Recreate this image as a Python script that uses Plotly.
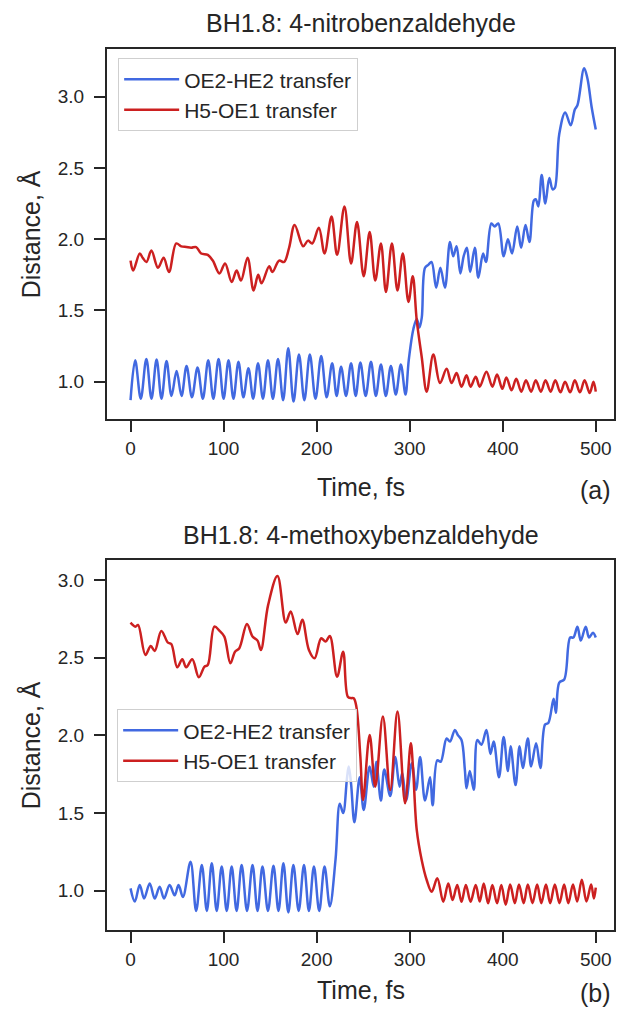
import plotly.graph_objects as go

# ---------------- data (time fs, distance Å) ----------------
time_ticks = [0, 100, 200, 300, 400, 500]
dist_ticks = [1.0, 1.5, 2.0, 2.5, 3.0]

series_names = ["OE2-HE2 transfer", "H5-OE1 transfer"]
titles = ["BH1.8: 4-nitrobenzaldehyde", "BH1.8: 4-methoxybenzaldehyde"]
panel_tags = ["(a)", "(b)"]

# (a) 4-nitrobenzaldehyde
a_blue = [(0, 0.87), (5, 1.15), (11, 0.88), (17, 1.16), (22.5, 0.88), (28, 1.155), (33.3, 0.88),
          (38.7, 1.145), (44, 0.90), (49.5, 1.075), (54.8, 0.90), (60.2, 1.11), (66, 0.89), (72, 1.10),
          (77.7, 0.88), (83.5, 1.15), (89, 0.88), (94.6, 1.16), (100, 0.88), (105.3, 1.15), (110.6, 0.88),
          (116, 1.14), (121.3, 0.89), (126.7, 1.095), (131.8, 0.88), (137, 1.13), (142.3, 0.88),
          (147.7, 1.15), (153, 0.88), (158.5, 1.16), (164, 0.87), (169.5, 1.235), (175.2, 0.86),
          (181, 1.19), (186.8, 0.87), (192.7, 1.19), (198.8, 0.88), (204.9, 1.18), (210.8, 0.89),
          (216.7, 1.13), (221.5, 0.90), (226.3, 1.105), (231.6, 0.90), (237, 1.13), (242, 0.90),
          (247, 1.135), (252.7, 0.90), (258.4, 1.14), (263.7, 0.90), (269.1, 1.12), (274.4, 0.90),
          (279.8, 1.11), (285.1, 0.91), (290.5, 1.12), (295.5, 0.91), (299, 1.15), (304, 1.37),
          (307.6, 1.44), (310.5, 1.38), (313, 1.45), (316.5, 1.80), (320, 1.82), (323.5, 1.84),
          (328.5, 1.66), (333, 1.80), (337.9, 1.66), (343.3, 1.98), (346.8, 1.88), (350.4, 1.95),
          (354.5, 1.76), (358, 1.88), (361.5, 1.94), (365, 1.77), (370, 1.94), (373.8, 1.73),
          (378.9, 1.90), (382, 1.84), (387.8, 2.11), (391.4, 2.09), (395.2, 2.11), (401, 1.88),
          (405.6, 2.00), (410, 1.90), (415.6, 2.09), (419.8, 1.94), (424.5, 2.10), (428.7, 1.98),
          (433.4, 2.27), (435.5, 2.28), (438.3, 2.23), (441.9, 2.45), (445.8, 2.25), (450.1, 2.43),
          (453.6, 2.35), (456, 2.36), (460.8, 2.74), (467.2, 2.89), (473, 2.80), (477.5, 2.91),
          (480.3, 2.94), (487.5, 3.20), (491, 3.13), (495.5, 2.93), (500, 2.77)]

a_red = [(0, 1.85), (2.8, 1.78), (9.9, 1.90), (13, 1.87), (17.1, 1.84), (22.4, 1.92), (29.5, 1.80),
         (35.6, 1.87), (41.3, 1.77), (49.1, 1.97), (54.5, 1.95), (60, 1.945), (65.2, 1.94),
         (70.5, 1.945), (75.9, 1.90), (83, 1.89), (88.4, 1.85), (95.5, 1.76), (101.6, 1.83),
         (108.7, 1.70), (114, 1.78), (118.7, 1.71), (125.8, 1.87), (132.2, 1.64), (137.2, 1.75),
         (140.8, 1.69), (149, 1.81), (152.5, 1.77), (159.7, 1.85), (165, 1.84), (170.4, 1.94),
         (176.4, 2.10), (185.5, 1.95), (190.7, 1.99), (195.3, 1.97), (202.4, 2.08), (208.5, 1.90),
         (216, 2.16), (222, 1.89), (229.9, 2.23), (237, 1.83), (243.4, 2.12), (250.6, 1.74),
         (257, 2.05), (263, 1.71), (269.1, 1.97), (274.5, 1.63), (280.9, 1.97), (286.9, 1.64),
         (292.6, 1.90), (298.7, 1.56), (303.3, 1.74), (307.6, 1.43), (312.9, 1.175), (318.3, 0.93),
         (325.4, 1.19), (332.6, 0.99), (339.7, 1.09), (345, 0.99), (350.4, 1.06), (355.7, 0.965),
         (361.1, 1.045), (365.4, 0.965), (371, 1.035), (375.3, 0.965), (382.5, 1.07), (388.9, 0.965),
         (393.9, 1.05), (399.6, 0.95), (403.9, 1.03), (409.5, 0.94), (414.5, 1.02), (420, 0.93),
         (425, 1.01), (430.5, 0.93), (435.5, 1.01), (441, 0.93), (446, 1.01), (451.5, 0.93),
         (456.5, 1.01), (462, 0.925), (467, 1.00), (472.5, 0.925), (477.5, 1.01), (483, 0.925),
         (488, 1.01), (493.5, 0.92), (497.5, 1.00), (500, 0.93)]

# (b) 4-methoxybenzaldehyde
b_blue = [(0, 1.015), (4.6, 0.93), (9.9, 1.037), (14.6, 0.95), (20.6, 1.047), (26, 0.95), (31.3, 1.026),
          (36, 0.95), (42, 1.037), (47.4, 0.97), (51.6, 1.037), (56.3, 0.96), (64.5, 1.187), (70.5, 0.87),
          (76.6, 1.165), (82, 0.87), (87.3, 1.176), (92.6, 0.87), (98, 1.155), (103.4, 0.87),
          (108.7, 1.155), (114, 0.87), (119.4, 1.165), (125.2, 0.87), (131.1, 1.165), (136.5, 0.87),
          (141.8, 1.155), (147.7, 0.87), (153.6, 1.16), (159, 0.87), (164.3, 1.176), (169.6, 0.86),
          (175, 1.165), (180.7, 0.87), (186.4, 1.165), (191.7, 0.87), (197.1, 1.155), (202.8, 0.87),
          (208.5, 1.155), (214.2, 0.90), (220.3, 1.20), (224.9, 1.56), (228.5, 1.50), (232.7, 1.73),
          (234.5, 1.80), (237, 1.69), (240.6, 1.44), (246.3, 1.73), (250.6, 1.52), (257, 1.80),
          (261.3, 1.67), (264.1, 1.83), (269.1, 1.58), (272.7, 1.78), (279.1, 1.61), (284.4, 1.86),
          (289.1, 1.67), (292, 1.76), (296.2, 1.58), (302.3, 1.82), (306.9, 1.65), (311.2, 1.86),
          (316.5, 1.58), (321.9, 1.73), (324.7, 1.55), (329.7, 1.84), (333.3, 1.83), (339.7, 1.98),
          (343.3, 1.96), (348.6, 2.035), (352, 2.00), (355.7, 1.97), (359.3, 1.78), (361.1, 1.66),
          (364.6, 1.77), (368.9, 1.65), (372.8, 1.97), (377.1, 1.94), (382.5, 2.035), (386.8, 1.88),
          (390.3, 1.96), (396, 1.73), (401, 1.99), (405.6, 1.77), (408.5, 1.93), (413.8, 1.68),
          (418.1, 1.93), (421.6, 1.79), (427, 1.98), (430.5, 1.80), (435.9, 1.95), (440.5, 1.79),
          (445.5, 2.07), (449, 2.08), (454.7, 2.235), (457.2, 2.145), (460.8, 2.34), (466.1, 2.36),
          (472.5, 2.63), (476, 2.63), (480.3, 2.70), (483.9, 2.61), (489.2, 2.70), (492.8, 2.63),
          (497, 2.66), (500, 2.63)]

b_red = [(0, 2.726), (2.5, 2.71), (5.3, 2.70), (8.1, 2.711), (16, 2.518), (21.7, 2.576), (26, 2.543),
         (33.1, 2.672), (40.2, 2.597), (43.8, 2.588), (50.2, 2.438), (55.6, 2.49), (59.8, 2.438),
         (66.3, 2.49), (73.4, 2.374), (79.5, 2.443), (83, 2.453), (90.1, 2.70), (95.5, 2.674),
         (100.8, 2.636), (107.3, 2.464), (112.3, 2.539), (116.9, 2.561), (125.1, 2.717), (131.1, 2.636),
         (136.5, 2.61), (140.1, 2.55), (147.9, 2.84), (157.9, 3.026), (166.8, 2.726), (172.1, 2.797),
         (179.5, 2.652), (184.6, 2.745), (191.7, 2.55), (197.8, 2.496), (204.9, 2.625), (209.6, 2.604),
         (214.2, 2.64), (222, 2.378), (228.5, 2.539), (233.5, 2.249), (237, 2.24), (239.9, 2.239),
         (242.7, 2.185), (247, 1.863), (249.9, 1.584), (257, 2.003), (263, 1.67), (271.2, 2.121),
         (279.1, 1.648), (286.9, 2.153), (295.1, 1.563), (301.2, 1.949), (303.5, 1.80), (307.6, 1.391),
         (312.9, 1.198), (318.3, 1.069), (323.7, 0.994), (329.7, 1.08), (336.1, 0.929), (341.5, 1.047),
         (346.1, 0.94), (351.1, 1.037), (355.7, 0.929), (360.4, 1.037), (365.4, 0.929), (371, 1.037),
         (375.3, 0.93), (379.6, 1.047), (384.3, 0.919), (388.9, 1.037), (393.9, 0.919), (398.5, 1.037),
         (403.2, 0.91), (408, 1.04), (413, 0.92), (417.5, 1.04), (422.5, 0.92), (427, 1.04), (432, 0.92),
         (437, 1.04), (441.5, 0.92), (446.5, 1.04), (451, 0.92), (456, 1.04), (461, 0.92), (466, 1.04),
         (470.5, 0.92), (475.5, 1.04), (480, 0.93), (485, 1.07), (490, 0.93), (495, 1.04), (498, 0.95),
         (500, 1.02)]

# ---------------- styling / layout ----------------
W, H = 618, 1013
ML, MR, MT, MB = 107, 2, 49, 83
PW, PH = W - ML - MR, H - MT - MB
BLUE, RED = "#4169e1", "#cc2020"
INK = "#262626"
FONT = "Liberation Sans, Arial, sans-serif"


def px(x):
    return (x - ML) / PW


def py(y):
    return (H - MB - y) / PH


fig = go.Figure()
panels = [(a_blue, a_red, "x", "y", "legend"), (b_blue, b_red, "x2", "y2", "legend2")]
for blue, red, xa, ya, lg in panels:
    for data, color, name in ((blue, BLUE, series_names[0]), (red, RED, series_names[1])):
        fig.add_trace(go.Scatter(
            x=[p[0] for p in data], y=[p[1] for p in data], mode="lines", name=name,
            line=dict(color=color, width=2.5, shape="spline", smoothing=1.0),
            xaxis=xa, yaxis=ya, legend=lg, hoverinfo="skip"))

axis_common = dict(showline=True, linewidth=2.2, linecolor=INK, mirror=True, ticks="outside",
                   ticklen=11, tickwidth=2.2, tickcolor=INK, showgrid=False, zeroline=False,
                   tickfont=dict(family=FONT, size=19, color=INK))
x_range = [-25.3, 519.6]
top_dom = [py(419), 1.0]
bot_dom = [0.0, py(560)]

legend_common = dict(xanchor="left", yanchor="top", bgcolor="rgba(255,255,255,0.8)",
                     bordercolor="#cfcfcf", borderwidth=1.2,
                     font=dict(family=FONT, size=21, color=INK), itemwidth=55, tracegroupgap=0)

fig.update_layout(
    width=W, height=H, margin=dict(l=ML, r=MR, t=MT, b=MB),
    paper_bgcolor="white", plot_bgcolor="white", font=dict(family=FONT, color=INK),
    xaxis=dict(domain=[0, 1], range=x_range, tickvals=time_ticks, anchor="y", **axis_common),
    yaxis=dict(domain=top_dom, range=[0.738, 3.335], tickvals=dist_ticks, tickformat=".1f",
               anchor="x", ticklabelstandoff=6, **axis_common),
    xaxis2=dict(domain=[0, 1], range=x_range, tickvals=time_ticks, anchor="y2", **axis_common),
    yaxis2=dict(domain=bot_dom, range=[0.747, 3.129], tickvals=dist_ticks, tickformat=".1f",
                anchor="x2", ticklabelstandoff=6, **axis_common),
    legend=dict(x=px(118), y=py(58), **legend_common),
    legend2=dict(x=px(117), y=py(709), **legend_common),
    showlegend=True,
)

ann = []
for title, ty in zip(titles, (23, 535)):
    ann.append(dict(text=title, x=px(361.5), y=py(ty), font=dict(size=25)))
for tag, ly in zip(panel_tags, (487, 990)):
    ann.append(dict(text="Time, fs", x=px(361.5), y=py(ly), font=dict(size=25)))
    ann.append(dict(text=tag, x=px(597), y=py(ly + 3), font=dict(size=25)))
for cy in (234, 745):
    ann.append(dict(text="Distance, Å", x=px(30), y=py(cy), textangle=-90, font=dict(size=25)))
for a in ann:
    a.update(xref="paper", yref="paper", showarrow=False, xanchor="center", yanchor="middle")
    a["font"].update(family=FONT, color=INK)
fig.update_layout(annotations=ann)

fig.write_html("out.html", config={"displayModeBar": False},
               post_script="document.body.style.margin='0px';")
